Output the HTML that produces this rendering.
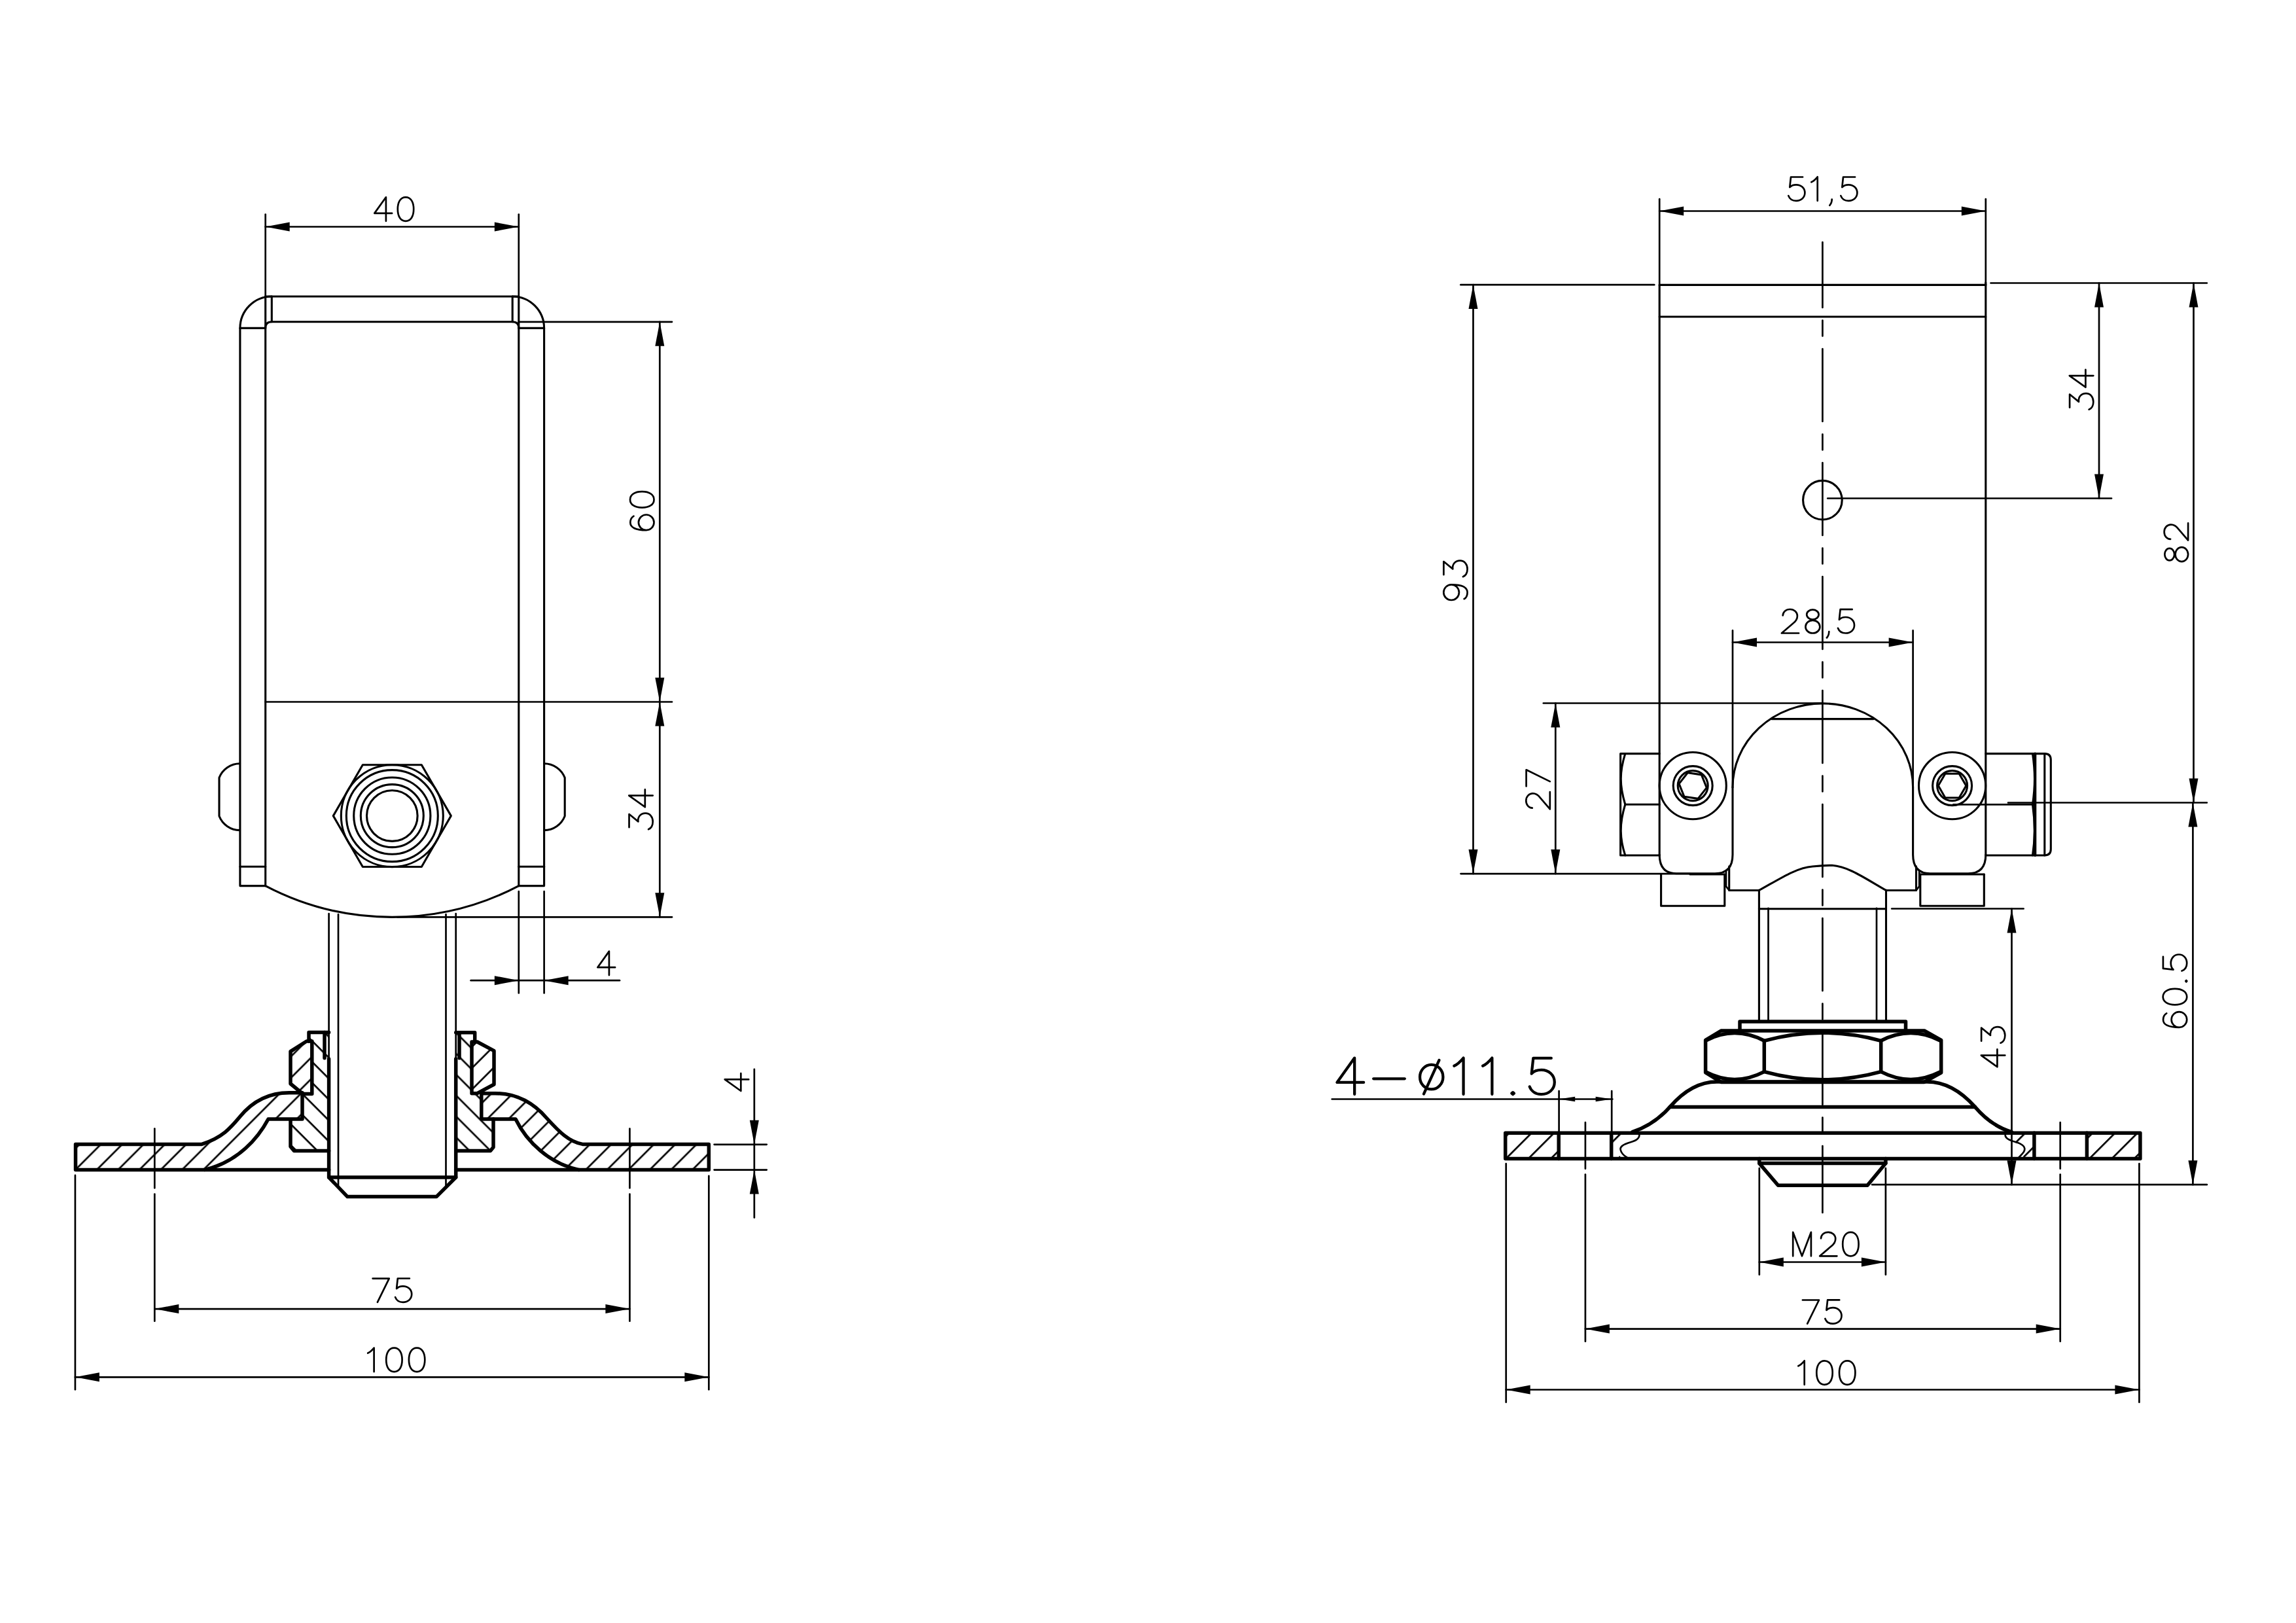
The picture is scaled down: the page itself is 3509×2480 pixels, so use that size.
<!DOCTYPE html><html><head><meta charset="utf-8"><title>Drawing</title><style>html,body{margin:0;padding:0;background:#fff;width:3509px;height:2480px;overflow:hidden}svg{display:block}</style></head><body><svg width="3509" height="2480" viewBox="0 0 3509 2480"><defs><pattern id="pL" width="23.05" height="23.05" patternUnits="userSpaceOnUse" patternTransform="rotate(45)"><line x1="8.55" y1="-2" x2="8.55" y2="25.05" stroke="#000" stroke-width="2.7"/></pattern><pattern id="pR" width="23.05" height="23.05" patternUnits="userSpaceOnUse" patternTransform="rotate(45)"><line x1="6.85" y1="-2" x2="6.85" y2="25.05" stroke="#000" stroke-width="2.7"/></pattern><pattern id="nL" width="23.05" height="23.05" patternUnits="userSpaceOnUse" patternTransform="rotate(45)"><line x1="3.8" y1="-2" x2="3.8" y2="25.05" stroke="#000" stroke-width="2.7"/></pattern><pattern id="nR" width="23.05" height="23.05" patternUnits="userSpaceOnUse" patternTransform="rotate(45)"><line x1="4.5" y1="-2" x2="4.5" y2="25.05" stroke="#000" stroke-width="2.7"/></pattern><pattern id="bL" width="22.6" height="22.6" patternUnits="userSpaceOnUse" patternTransform="rotate(-45)"><line x1="3.6" y1="-2" x2="3.6" y2="24.6" stroke="#000" stroke-width="2.7"/></pattern><pattern id="bR" width="22.6" height="22.6" patternUnits="userSpaceOnUse" patternTransform="rotate(-45)"><line x1="9.8" y1="-2" x2="9.8" y2="24.6" stroke="#000" stroke-width="2.7"/></pattern><pattern id="p2" width="24.25" height="24.25" patternUnits="userSpaceOnUse" patternTransform="rotate(45)"><line x1="17.85" y1="-2" x2="17.85" y2="26.25" stroke="#000" stroke-width="2.7"/></pattern></defs><rect width="3509" height="2480" fill="#fff"/><g stroke="#000" fill="none" stroke-linecap="round" stroke-linejoin="round"><line x1="405.7" y1="327.6" x2="405.7" y2="453" stroke-width="2.7"/>
<line x1="792.8" y1="327.6" x2="792.8" y2="453" stroke-width="2.7"/>
<line x1="405.7" y1="346.5" x2="792.8" y2="346.5" stroke-width="2.7"/>
<path d="M405.7,346.5 L442.7,339.5 L442.7,353.5 Z" fill="#000" stroke="none"/>
<path d="M792.8,346.5 L755.8,353.5 L755.8,339.5 Z" fill="#000" stroke="none"/>
<g transform="translate(572.3,301.3) scale(1.0)" fill="none" stroke-width="2.7" stroke-linecap="round" stroke-linejoin="round"><path transform="translate(0,0)" d="M17.6,36.5 V0 L0,24.6 H26.8"/><path transform="translate(35.5,0)" d="M12.2,0 C4.3,0 0,7.5 0,18.25 C0,29 4.3,36.5 12.2,36.5 C20.1,36.5 24.4,29 24.4,18.25 C24.4,7.5 20.1,0 12.2,0 Z"/></g>
<line x1="405.7" y1="453" x2="405.7" y2="1353.6" stroke-width="3.1"/>
<line x1="792.8" y1="453" x2="792.8" y2="1353.6" stroke-width="3.1"/>
<line x1="405.7" y1="453" x2="792.8" y2="453" stroke-width="3.1"/>
<path d="M415.3,453 A48.4,48.5 0 0 0 366.9,501.5 L366.9,1353.6 H405.7" stroke-width="3.1" fill="none"/>
<path d="M783.2,453 A48.4,48.5 0 0 1 831.6,501.5 L831.6,1353.6 H792.8" stroke-width="3.1" fill="none"/>
<line x1="366.9" y1="501.4" x2="405.7" y2="501.4" stroke-width="3.1"/>
<line x1="792.8" y1="501.4" x2="831.6" y2="501.4" stroke-width="3.1"/>
<line x1="415.3" y1="453" x2="415.3" y2="491.8" stroke-width="3.1"/>
<line x1="783.2" y1="453" x2="783.2" y2="491.8" stroke-width="3.1"/>
<path d="M405.7,501.4 Q405.7,491.8 415.3,491.8 H783.2 Q792.8,491.8 792.8,501.4" stroke-width="3.1" fill="none"/>
<line x1="792.8" y1="491.8" x2="1027" y2="491.8" stroke-width="2.7"/>
<line x1="405.7" y1="1072.5" x2="1027" y2="1072.5" stroke-width="2.7"/>
<line x1="366.9" y1="1324.2" x2="405.7" y2="1324.2" stroke-width="3.1"/>
<line x1="792.8" y1="1324.2" x2="831.6" y2="1324.2" stroke-width="3.1"/>
<path d="M405.7,1353.6 A416.3,416.3 0 0 0 792.8,1353.6" stroke-width="3.1" fill="none"/>
<path d="M366.6,1166.8 A33.9,33.9 0 0 0 335,1188.4 V1247 A33.9,33.9 0 0 0 366.6,1268.6" stroke-width="3.1" fill="none"/>
<path d="M831.6,1166.8 A33.9,33.9 0 0 1 863.2,1188.4 V1247 A33.9,33.9 0 0 1 831.6,1268.6" stroke-width="3.1" fill="none"/>
<path d="M689.3,1246.6 L644.3,1324.5 L554.3,1324.5 L509.3,1246.6 L554.3,1168.7 L644.3,1168.7 Z" stroke-width="3.1" fill="none"/>
<circle cx="599.3" cy="1246.6" r="78" stroke-width="3.1" fill="none"/>
<circle cx="599.3" cy="1246.6" r="70" stroke-width="3.1" fill="none"/>
<circle cx="599.3" cy="1246.6" r="58.6" stroke-width="3.1" fill="none"/>
<circle cx="599.3" cy="1246.6" r="48" stroke-width="3.1" fill="none"/>
<circle cx="599.3" cy="1246.6" r="38.8" stroke-width="3.1" fill="none"/>
<line x1="1008.3" y1="491.8" x2="1008.3" y2="1401.3" stroke-width="2.7"/>
<path d="M1008.3,491.8 L1015.3,528.8 L1001.3,528.8 Z" fill="#000" stroke="none"/>
<path d="M1008.3,1072.5 L1001.3,1035.5 L1015.3,1035.5 Z" fill="#000" stroke="none"/>
<path d="M1008.3,1072.5 L1015.3,1109.5 L1001.3,1109.5 Z" fill="#000" stroke="none"/>
<path d="M1008.3,1401.3 L1001.3,1364.3 L1015.3,1364.3 Z" fill="#000" stroke="none"/>
<g transform="translate(963,810.6) rotate(-90) scale(1.0)" fill="none" stroke-width="2.7" stroke-linecap="round" stroke-linejoin="round"><path transform="translate(0,0)" d="M22,5.5 C20,2 16.5,0.3 12,0.3 C4.5,0.3 0.5,8.5 0.5,24.7 M0.5,24.7 A11.8,11.8 0 1 0 24.1,24.7 A11.8,11.8 0 1 0 0.5,24.7"/><path transform="translate(35,0)" d="M12.2,0 C4.3,0 0,7.5 0,18.25 C0,29 4.3,36.5 12.2,36.5 C20.1,36.5 24.4,29 24.4,18.25 C24.4,7.5 20.1,0 12.2,0 Z"/></g>
<g transform="translate(961.2,1268.2) rotate(-90) scale(1.0)" fill="none" stroke-width="2.7" stroke-linecap="round" stroke-linejoin="round"><path transform="translate(0,0)" d="M4,0.3 H24.2 L12.8,14.2 C20.5,13 25.6,18.5 25.6,25.2 C25.6,32 20,36.5 12.8,36.5 C7,36.5 2.8,34 1,29.8"/><path transform="translate(35,0)" d="M17.6,36.5 V0 L0,24.6 H26.8"/></g>
<line x1="607" y1="1401.3" x2="1027" y2="1401.3" stroke-width="2.7"/>
<line x1="792.8" y1="1362" x2="792.8" y2="1517.4" stroke-width="2.7"/>
<line x1="831.6" y1="1362" x2="831.6" y2="1517.4" stroke-width="2.7"/>
<line x1="719.6" y1="1498.2" x2="947" y2="1498.2" stroke-width="2.7"/>
<path d="M792.8,1498.2 L755.8,1505.2 L755.8,1491.2 Z" fill="#000" stroke="none"/>
<path d="M831.6,1498.2 L868.6,1491.2 L868.6,1505.2 Z" fill="#000" stroke="none"/>
<g transform="translate(913.3,1453.6) scale(1.0)" fill="none" stroke-width="2.7" stroke-linecap="round" stroke-linejoin="round"><path transform="translate(0,0)" d="M17.6,36.5 V0 L0,24.6 H26.8"/></g>
<line x1="502.6" y1="1396" x2="502.6" y2="1618" stroke-width="2.7"/>
<line x1="696.7" y1="1396" x2="696.7" y2="1618" stroke-width="2.7"/>
<line x1="517" y1="1397" x2="517" y2="1812" stroke-width="2.7"/>
<line x1="681.5" y1="1397" x2="681.5" y2="1812" stroke-width="2.7"/>
<path d="M502.6,1618 V1799 L531,1828.6 H667 L696.7,1799 V1618" stroke-width="5.5" fill="none"/>
<line x1="502.6" y1="1799" x2="696.7" y2="1799" stroke-width="5.5"/>
<path d="M115.5,1748.4 H308.5 C340,1738 352,1724 367,1706 C385,1684 410,1669.7 442,1669.7 H462 V1710 H410 C395,1738 365,1775 313,1787.4 H115.5 Z" fill="url(#pL)" stroke="none"/>
<path d="M1083.3,1748.4 H890.3 C870,1745 855,1730 835,1708 C815,1685 790,1670.7 756.8,1670.7 H735.8 V1710 H788 C805,1745 840,1778 884.9,1787.6 H1083.3 Z" fill="url(#pR)" stroke="none"/>
<path d="M444,1606.6 L468.6,1591 H476.8 V1671.6 H463 L444,1656 Z" fill="url(#nL)" stroke="none"/>
<path d="M755,1605.7 L729.4,1592 H721 V1670.7 H729.4 L755,1657 Z" fill="url(#nR)" stroke="none"/>
<path d="M472,1577.4 H502.6 V1758.5 H449.4 L444,1752 V1712 H462 V1669.7 H476.8 V1591 H472 Z" fill="url(#bL)" stroke="none"/>
<path d="M725.7,1577.7 H696.7 V1758.5 H749.5 L754,1753 V1710 H735.8 V1670.7 H721 V1592 H725.7 Z" fill="url(#bR)" stroke="none"/>
<path d="M115.5,1748.4 H308.5 C340,1738 352,1724 367,1706 C385,1684 410,1669.7 442,1669.7 H462 V1710 H410 C395,1738 365,1775 313,1787.4 H115.5 Z" stroke-width="5.5" fill="none"/>
<path d="M1083.3,1748.4 H890.3 C870,1745 855,1730 835,1708 C815,1685 790,1670.7 756.8,1670.7 H735.8 V1710 H788 C805,1745 840,1778 884.9,1787.6 H1083.3 Z" stroke-width="5.5" fill="none"/>
<path d="M444,1606.6 L468.6,1591 H476.8 V1671.6 H463 L444,1656 Z" stroke-width="5.5" fill="none"/>
<path d="M755,1605.7 L729.4,1592 H721 V1670.7 H729.4 L755,1657 Z" stroke-width="5.5" fill="none"/>
<path d="M472,1591 V1577.4 H502.6" stroke-width="5.5" fill="none"/>
<line x1="496" y1="1577.4" x2="496" y2="1616.7" stroke-width="5.5"/>
<path d="M725.7,1592 V1577.7 H696.7" stroke-width="5.5" fill="none"/>
<line x1="702" y1="1577.7" x2="702" y2="1616.7" stroke-width="5.5"/>
<path d="M444,1712 V1752 L449.4,1758.5 H502.6" stroke-width="5.5" fill="none"/>
<path d="M754,1710 V1753 L749.5,1758.5 H696.7" stroke-width="5.5" fill="none"/>
<line x1="313" y1="1787.4" x2="502.6" y2="1787.4" stroke-width="5.5"/>
<line x1="696.7" y1="1787.6" x2="884.9" y2="1787.6" stroke-width="5.5"/>
<line x1="1091.6" y1="1748.8" x2="1171.7" y2="1748.8" stroke-width="2.7"/>
<line x1="1091.6" y1="1787.6" x2="1171.7" y2="1787.6" stroke-width="2.7"/>
<line x1="1152.8" y1="1633.8" x2="1152.8" y2="1860.6" stroke-width="2.7"/>
<path d="M1152.8,1748.8 L1145.8,1711.8 L1159.8,1711.8 Z" fill="#000" stroke="none"/>
<path d="M1152.8,1787.6 L1159.8,1824.6 L1145.8,1824.6 Z" fill="#000" stroke="none"/>
<g transform="translate(1107.7,1667) rotate(-90) scale(1.0)" fill="none" stroke-width="2.7" stroke-linecap="round" stroke-linejoin="round"><path transform="translate(0,0)" d="M17.6,36.5 V0 L0,24.6 H26.8"/></g>
<line x1="236.3" y1="1724.6" x2="236.3" y2="1815.3" stroke-width="2.7"/>
<line x1="236.3" y1="1824.5" x2="236.3" y2="2018.7" stroke-width="2.7"/>
<line x1="962.4" y1="1724.6" x2="962.4" y2="1815.3" stroke-width="2.7"/>
<line x1="962.4" y1="1824.5" x2="962.4" y2="2018.7" stroke-width="2.7"/>
<line x1="236.3" y1="2000.1" x2="962.4" y2="2000.1" stroke-width="2.7"/>
<path d="M236.3,2000.1 L273.3,1993.1 L273.3,2007.1 Z" fill="#000" stroke="none"/>
<path d="M962.4,2000.1 L925.4,2007.1 L925.4,1993.1 Z" fill="#000" stroke="none"/>
<g transform="translate(569.6,1953.3) scale(1.0)" fill="none" stroke-width="2.7" stroke-linecap="round" stroke-linejoin="round"><path transform="translate(0,0)" d="M0,0.3 H25.1 L7.3,36.5"/><path transform="translate(34.5,0)" d="M21.8,0.2 H3.7 L2,15.8 C4.5,13 8,12 11.8,12 C19.5,12 25.1,17.3 25.1,24.3 C25.1,31.6 19.3,36.5 11.8,36.5 C5.8,36.5 1.6,33.2 0,28.8"/></g>
<line x1="114.9" y1="1795.9" x2="114.9" y2="2123.3" stroke-width="2.7"/>
<line x1="1083.3" y1="1796.8" x2="1083.3" y2="2123.3" stroke-width="2.7"/>
<line x1="114.9" y1="2104.3" x2="1083.3" y2="2104.3" stroke-width="2.7"/>
<path d="M114.9,2104.3 L151.9,2097.3 L151.9,2111.3 Z" fill="#000" stroke="none"/>
<path d="M1083.3,2104.3 L1046.3,2111.3 L1046.3,2097.3 Z" fill="#000" stroke="none"/>
<g transform="translate(562.2,2059.6) scale(1.0)" fill="none" stroke-width="2.7" stroke-linecap="round" stroke-linejoin="round"><path transform="translate(0,0)" d="M0,8 C3.5,6.5 6.5,3.5 9.4,0 V36.5"/><path transform="translate(28,0)" d="M12.2,0 C4.3,0 0,7.5 0,18.25 C0,29 4.3,36.5 12.2,36.5 C20.1,36.5 24.4,29 24.4,18.25 C24.4,7.5 20.1,0 12.2,0 Z"/><path transform="translate(62.7,0)" d="M12.2,0 C4.3,0 0,7.5 0,18.25 C0,29 4.3,36.5 12.2,36.5 C20.1,36.5 24.4,29 24.4,18.25 C24.4,7.5 20.1,0 12.2,0 Z"/></g>
<line x1="2536.2" y1="304.2" x2="2536.2" y2="435.4" stroke-width="2.7"/>
<line x1="3034.8" y1="304.2" x2="3034.8" y2="435.4" stroke-width="2.7"/>
<line x1="2536.2" y1="322.5" x2="3034.8" y2="322.5" stroke-width="2.7"/>
<path d="M2536.2,322.5 L2573.2,315.5 L2573.2,329.5 Z" fill="#000" stroke="none"/>
<path d="M3034.8,322.5 L2997.8,329.5 L2997.8,315.5 Z" fill="#000" stroke="none"/>
<g transform="translate(2733.3,270.3) scale(1.0)" fill="none" stroke-width="2.7" stroke-linecap="round" stroke-linejoin="round"><path transform="translate(0,0)" d="M21.8,0.2 H3.7 L2,15.8 C4.5,13 8,12 11.8,12 C19.5,12 25.1,17.3 25.1,24.3 C25.1,31.6 19.3,36.5 11.8,36.5 C5.8,36.5 1.6,33.2 0,28.8"/><path transform="translate(35,0)" d="M0,8 C3.5,6.5 6.5,3.5 9.4,0 V36.5"/><path transform="translate(63,0)" d="M3.4,34.2 C3.4,38 2.2,41 0,43.5"/><path transform="translate(80,0)" d="M21.8,0.2 H3.7 L2,15.8 C4.5,13 8,12 11.8,12 C19.5,12 25.1,17.3 25.1,24.3 C25.1,31.6 19.3,36.5 11.8,36.5 C5.8,36.5 1.6,33.2 0,28.8"/></g>
<line x1="2536.2" y1="435.4" x2="2536.2" y2="1306" stroke-width="3.1"/>
<line x1="3034.8" y1="431.7" x2="3034.8" y2="1306" stroke-width="3.1"/>
<line x1="2536.2" y1="435.4" x2="3034.8" y2="435.4" stroke-width="3.1"/>
<line x1="2536.2" y1="484" x2="3034.8" y2="484" stroke-width="3.1"/>
<line x1="2232.4" y1="435.2" x2="2528.2" y2="435.2" stroke-width="2.7"/>
<line x1="3042.5" y1="432.5" x2="3372.8" y2="432.5" stroke-width="2.7"/>
<line x1="2785.4" y1="370" x2="2785.4" y2="1853" stroke-width="2.7" stroke-dasharray="111 19.5 24 19.5" stroke-dashoffset="11"/>
<circle cx="2785.4" cy="764.2" r="29.8" stroke-width="3.1" fill="none"/>
<line x1="2793.2" y1="761.5" x2="3227" y2="761.5" stroke-width="2.7"/>
<line x1="3208" y1="432.5" x2="3208" y2="761.5" stroke-width="2.7"/>
<path d="M3208,432.5 L3215,469.5 L3201,469.5 Z" fill="#000" stroke="none"/>
<path d="M3208,761.5 L3201,724.5 L3215,724.5 Z" fill="#000" stroke="none"/>
<g transform="translate(3162.8,626.7) rotate(-90) scale(1.0)" fill="none" stroke-width="2.7" stroke-linecap="round" stroke-linejoin="round"><path transform="translate(0,0)" d="M4,0.3 H24.2 L12.8,14.2 C20.5,13 25.6,18.5 25.6,25.2 C25.6,32 20,36.5 12.8,36.5 C7,36.5 2.8,34 1,29.8"/><path transform="translate(35,0)" d="M17.6,36.5 V0 L0,24.6 H26.8"/></g>
<line x1="3352.5" y1="432.5" x2="3352.5" y2="1226.5" stroke-width="2.7"/>
<path d="M3352.5,432.5 L3359.5,469.5 L3345.5,469.5 Z" fill="#000" stroke="none"/>
<path d="M3352.5,1226.5 L3345.5,1189.5 L3359.5,1189.5 Z" fill="#000" stroke="none"/>
<g transform="translate(3307.6,859.6) rotate(-90) scale(1.0)" fill="none" stroke-width="2.7" stroke-linecap="round" stroke-linejoin="round"><path transform="translate(0,0)" d="M12.5,0.7 C7.4,0.7 3.3,4 3.3,8.1 C3.3,12.2 7.4,15.5 12.5,15.5 C17.6,15.5 21.7,12.2 21.7,8.1 C21.7,4 17.6,0.7 12.5,0.7 Z M12.5,16.9 C6.4,16.9 1.5,21.3 1.5,26.7 C1.5,32.1 6.4,36.5 12.5,36.5 C18.6,36.5 23.5,32.1 23.5,26.7 C23.5,21.3 18.6,16.9 12.5,16.9 Z"/><path transform="translate(34,0)" d="M1.8,9.5 C2,4 6.5,0 12.8,0 C19.3,0 24,4.5 24,10.3 C24,14.5 21.5,18.5 17.5,21.5 L0,36.5 H26.2"/></g>
<line x1="2251.5" y1="435.1" x2="2251.5" y2="1335.1" stroke-width="2.7"/>
<path d="M2251.5,435.1 L2258.5,472.1 L2244.5,472.1 Z" fill="#000" stroke="none"/>
<path d="M2251.5,1335.1 L2244.5,1298.1 L2258.5,1298.1 Z" fill="#000" stroke="none"/>
<g transform="translate(2206.1,917.2) rotate(-90) scale(1.0)" fill="none" stroke-width="2.7" stroke-linecap="round" stroke-linejoin="round"><path transform="translate(0,0)" d="M23.8,12 A11.8,11.8 0 1 0 0.2,12 A11.8,11.8 0 1 0 23.8,12 C23.8,29 19.5,36.5 12,36.5 C7,36.5 3.5,34.5 2,31.5"/><path transform="translate(35,0)" d="M4,0.3 H24.2 L12.8,14.2 C20.5,13 25.6,18.5 25.6,25.2 C25.6,32 20,36.5 12.8,36.5 C7,36.5 2.8,34 1,29.8"/></g>
<line x1="2232.5" y1="1335.1" x2="2583" y2="1335.1" stroke-width="2.7"/>
<line x1="2358.8" y1="1074.5" x2="2783" y2="1074.5" stroke-width="2.7"/>
<line x1="2377.3" y1="1074.5" x2="2377.3" y2="1335.1" stroke-width="2.7"/>
<path d="M2377.3,1074.5 L2384.3,1111.5 L2370.3,1111.5 Z" fill="#000" stroke="none"/>
<path d="M2377.3,1335.1 L2370.3,1298.1 L2384.3,1298.1 Z" fill="#000" stroke="none"/>
<g transform="translate(2332.3,1236.4) rotate(-90) scale(1.0)" fill="none" stroke-width="2.7" stroke-linecap="round" stroke-linejoin="round"><path transform="translate(0,0)" d="M1.8,9.5 C2,4 6.5,0 12.8,0 C19.3,0 24,4.5 24,10.3 C24,14.5 21.5,18.5 17.5,21.5 L0,36.5 H26.2"/><path transform="translate(35,0)" d="M0,0.3 H25.1 L7.3,36.5"/></g>
<line x1="2648" y1="963.4" x2="2648" y2="1203" stroke-width="2.7"/>
<line x1="2923.6" y1="963.4" x2="2923.6" y2="1203" stroke-width="2.7"/>
<line x1="2648" y1="981.5" x2="2923.6" y2="981.5" stroke-width="2.7"/>
<path d="M2648,981.5 L2685,974.5 L2685,988.5 Z" fill="#000" stroke="none"/>
<path d="M2923.6,981.5 L2886.6,988.5 L2886.6,974.5 Z" fill="#000" stroke="none"/>
<g transform="translate(2722.9,931) scale(1.0)" fill="none" stroke-width="2.7" stroke-linecap="round" stroke-linejoin="round"><path transform="translate(0,0)" d="M1.8,9.5 C2,4 6.5,0 12.8,0 C19.3,0 24,4.5 24,10.3 C24,14.5 21.5,18.5 17.5,21.5 L0,36.5 H26.2"/><path transform="translate(35,0)" d="M12.5,0.7 C7.4,0.7 3.3,4 3.3,8.1 C3.3,12.2 7.4,15.5 12.5,15.5 C17.6,15.5 21.7,12.2 21.7,8.1 C21.7,4 17.6,0.7 12.5,0.7 Z M12.5,16.9 C6.4,16.9 1.5,21.3 1.5,26.7 C1.5,32.1 6.4,36.5 12.5,36.5 C18.6,36.5 23.5,32.1 23.5,26.7 C23.5,21.3 18.6,16.9 12.5,16.9 Z"/><path transform="translate(69,0)" d="M3.4,34.2 C3.4,38 2.2,41 0,43.5"/><path transform="translate(86,0)" d="M21.8,0.2 H3.7 L2,15.8 C4.5,13 8,12 11.8,12 C19.5,12 25.1,17.3 25.1,24.3 C25.1,31.6 19.3,36.5 11.8,36.5 C5.8,36.5 1.6,33.2 0,28.8"/></g>
<path d="M2648,1203 A137.8,128.1 0 0 1 2923.6,1203" stroke-width="3.1" fill="none"/>
<line x1="2707.6" y1="1098.6" x2="2863.3" y2="1098.6" stroke-width="3.1"/>
<path d="M2536.2,1306 Q2536.2,1334.8 2562,1334.8 H2621 Q2648,1334.8 2648,1306 V1203" stroke-width="3.1" fill="none"/>
<path d="M2923.6,1203 V1306 Q2923.6,1334.8 2950,1334.8 H3008 Q3034.8,1334.8 3034.8,1306" stroke-width="3.1" fill="none"/>
<circle cx="2587.2" cy="1200.6" r="51.1" stroke-width="3.1" fill="none"/>
<circle cx="2587.2" cy="1200.6" r="30" stroke-width="3.1" fill="none"/>
<circle cx="2587.2" cy="1200.6" r="23" stroke-width="3.1" fill="none"/>
<path d="M2608.3,1203.6 L2595.1,1220.4 L2574,1217.3 L2566.1,1197.6 L2579.3,1180.8 L2600.4,1183.9 Z" stroke-width="3.1" fill="none"/>
<circle cx="2983.6" cy="1200.6" r="51.1" stroke-width="3.1" fill="none"/>
<circle cx="2983.6" cy="1200.6" r="30" stroke-width="3.1" fill="none"/>
<circle cx="2983.6" cy="1200.6" r="23" stroke-width="3.1" fill="none"/>
<path d="M3004.9,1200.6 L2994.2,1219 L2972.9,1219 L2962.3,1200.6 L2972.9,1182.2 L2994.2,1182.2 Z" stroke-width="3.1" fill="none"/>
<path d="M2536.2,1151.6 H2476.6 V1307 H2536.2" stroke-width="3.1" fill="none"/>
<line x1="2483.8" y1="1229.2" x2="2536.2" y2="1229.2" stroke-width="3.1"/>
<path d="M2483.8,1151.6 C2475,1180 2475,1200 2483.8,1229.2 C2475,1258 2475,1280 2483.8,1307" stroke-width="3.1" fill="none"/>
<path d="M3034.8,1151.6 H3125 Q3134.3,1151.6 3134.3,1161 V1297.6 Q3134.3,1307 3125,1307 H3034.8" stroke-width="3.1" fill="none"/>
<path d="M3106.5,1151.6 C3110.5,1180 3110.5,1200 3106.5,1229.4 C3110.5,1258 3110.5,1280 3106.5,1307" stroke-width="3.1" fill="none"/>
<line x1="3110.2" y1="1151.6" x2="3110.2" y2="1307" stroke-width="4.2"/>
<line x1="3124.8" y1="1151.6" x2="3124.8" y2="1307" stroke-width="3.1"/>
<line x1="3069" y1="1226.5" x2="3372.8" y2="1226.5" stroke-width="2.7"/>
<line x1="2985.3" y1="1229.4" x2="3110.7" y2="1229.4" stroke-width="2.7"/>
<path d="M2538.6,1336 V1384.3 H2635.8 V1336" stroke-width="3.1" fill="none"/>
<path d="M2934.8,1336 V1384.3 H3032.3 V1336" stroke-width="3.1" fill="none"/>
<line x1="2583" y1="1336" x2="2635.8" y2="1336" stroke-width="3.1"/>
<line x1="2934.8" y1="1336" x2="3032.3" y2="1336" stroke-width="3.1"/>
<path d="M2642.7,1323.9 V1360.5 H2688.4 C2720,1343 2745,1326 2770,1324 C2780,1323 2790,1322.3 2800,1322.3 C2825,1324 2850,1342 2882.5,1360.5 H2928.5 V1323.9" stroke-width="3.1" fill="none"/>
<path d="M2638,1330 V1354.4 L2642.7,1360.5" stroke-width="2.7" fill="none"/>
<path d="M2933.2,1330 V1354.4 L2928.5,1360.5" stroke-width="2.7" fill="none"/>
<line x1="2688.4" y1="1360" x2="2688.4" y2="1561" stroke-width="3.1"/>
<line x1="2882.5" y1="1360" x2="2882.5" y2="1561" stroke-width="3.1"/>
<line x1="2688.4" y1="1388.7" x2="2882.5" y2="1388.7" stroke-width="3.1"/>
<line x1="2702.5" y1="1387.8" x2="2702.5" y2="1561" stroke-width="2.7"/>
<line x1="2868" y1="1387.8" x2="2868" y2="1561" stroke-width="2.7"/>
<line x1="2891.2" y1="1388.5" x2="3092.6" y2="1388.5" stroke-width="2.7"/>
<line x1="3074.5" y1="1388.5" x2="3074.5" y2="1810.2" stroke-width="2.7"/>
<path d="M3074.5,1388.5 L3081.5,1425.5 L3067.5,1425.5 Z" fill="#000" stroke="none"/>
<path d="M3074.5,1810.2 L3067.5,1773.2 L3081.5,1773.2 Z" fill="#000" stroke="none"/>
<g transform="translate(3027.8,1630.2) rotate(-90) scale(1.0)" fill="none" stroke-width="2.7" stroke-linecap="round" stroke-linejoin="round"><path transform="translate(0,0)" d="M17.6,36.5 V0 L0,24.6 H26.8"/><path transform="translate(35.5,0)" d="M4,0.3 H24.2 L12.8,14.2 C20.5,13 25.6,18.5 25.6,25.2 C25.6,32 20,36.5 12.8,36.5 C7,36.5 2.8,34 1,29.8"/></g>
<line x1="3351.4" y1="1226.5" x2="3351.4" y2="1810.2" stroke-width="2.7"/>
<path d="M3351.4,1226.5 L3358.4,1263.5 L3344.4,1263.5 Z" fill="#000" stroke="none"/>
<path d="M3351.4,1810.2 L3344.4,1773.2 L3358.4,1773.2 Z" fill="#000" stroke="none"/>
<g transform="translate(3305.7,1570.3) rotate(-90) scale(1.0)" fill="none" stroke-width="2.7" stroke-linecap="round" stroke-linejoin="round"><path transform="translate(0,0)" d="M22,5.5 C20,2 16.5,0.3 12,0.3 C4.5,0.3 0.5,8.5 0.5,24.7 M0.5,24.7 A11.8,11.8 0 1 0 24.1,24.7 A11.8,11.8 0 1 0 0.5,24.7"/><path transform="translate(35,0)" d="M12.2,0 C4.3,0 0,7.5 0,18.25 C0,29 4.3,36.5 12.2,36.5 C20.1,36.5 24.4,29 24.4,18.25 C24.4,7.5 20.1,0 12.2,0 Z"/><path transform="translate(69.7,0)" d="M0.2,35.6 L1.4,34.6 L2.6,35.6 L1.4,36.6 Z"/><path transform="translate(86.7,0)" d="M21.8,0.2 H3.7 L2,15.8 C4.5,13 8,12 11.8,12 C19.5,12 25.1,17.3 25.1,24.3 C25.1,31.6 19.3,36.5 11.8,36.5 C5.8,36.5 1.6,33.2 0,28.8"/></g>
<line x1="2861.2" y1="1810.2" x2="3372.8" y2="1810.2" stroke-width="2.7"/>
<path d="M2659,1573 V1561 H2912.5 V1573" stroke-width="5.5" fill="none"/>
<path d="M2630.3,1575 L2606.6,1589.3 V1639 L2630.3,1653.4 H2941 L2966.7,1639 V1589.3 L2941,1575 Z" stroke-width="5.5" fill="none"/>
<line x1="2696.3" y1="1590.3" x2="2696.3" y2="1637.6" stroke-width="5.5"/>
<line x1="2874.7" y1="1590.3" x2="2874.7" y2="1637.6" stroke-width="5.5"/>
<path d="M2607,1590 Q2651,1567 2696.3,1590.3 Q2785,1566 2874.7,1590.3 Q2920,1567 2965,1590" stroke-width="5.5" fill="none"/>
<path d="M2607,1638 Q2651,1661 2696.3,1637.6 Q2785,1662 2874.7,1637.6 Q2920,1661 2965,1638" stroke-width="5.5" fill="none"/>
<path d="M2494.8,1729.7 C2525,1720 2542,1703 2552.2,1691.4 C2575,1665 2600,1653 2624,1653 H2945 C2970,1653 2995,1665 3018.4,1691.4 C3030,1705 3048,1722 3074.5,1729.7" stroke-width="5.5" fill="none"/>
<line x1="2552.2" y1="1691.4" x2="3018.4" y2="1691.4" stroke-width="5.5"/>
<path d="M2300.7,1731.2 H2382.2 V1770.5 H2300.7 Z" fill="url(#p2)" stroke="none"/>
<path d="M2462.7,1731.2 H2500 C2492,1742 2470,1748 2472,1760 L2478,1770.5 H2462.7 Z" fill="url(#p2)" stroke="none"/>
<path d="M3070,1731.2 H3108.9 V1770.5 H3092 C3095,1760 3080,1748 3070,1731.2 Z" fill="url(#p2)" stroke="none"/>
<path d="M3189.4,1731.2 H3270.9 V1770.5 H3189.4 Z" fill="url(#p2)" stroke="none"/>
<path d="M2300.7,1731.2 H3270.9 V1770.5 H2300.7 Z" stroke-width="5.5" fill="none"/>
<line x1="2382.2" y1="1731.2" x2="2382.2" y2="1770.5" stroke-width="5.5"/>
<line x1="2462.7" y1="1731.2" x2="2462.7" y2="1770.5" stroke-width="5.5"/>
<line x1="3108.9" y1="1731.2" x2="3108.9" y2="1770.5" stroke-width="5.5"/>
<line x1="3189.4" y1="1731.2" x2="3189.4" y2="1770.5" stroke-width="5.5"/>
<path d="M2505,1731 C2507,1738 2503,1742 2493,1745 C2479,1749 2475,1753 2477,1758 C2478,1762 2482,1766 2487,1769" stroke-width="2.7" fill="none"/>
<path d="M3065,1731 C3063,1738 3068,1741 3077,1744 C3092,1748 3097,1753 3093,1760 C3091,1763 3088,1766 3085,1769" stroke-width="2.7" fill="none"/>
<path d="M2688.8,1770.5 V1777.6 L2717.5,1811.2 H2854 L2881.9,1777.6 V1770.5" stroke-width="5.5" fill="none"/>
<line x1="2688.8" y1="1777.6" x2="2881.9" y2="1777.6" stroke-width="5.5"/>
<line x1="2035.7" y1="1679.5" x2="2464.3" y2="1679.5" stroke-width="2.7"/>
<line x1="2382.6" y1="1667" x2="2382.6" y2="1731" stroke-width="2.7"/>
<line x1="2463.2" y1="1667" x2="2463.2" y2="1731" stroke-width="2.7"/>
<path d="M2382.6,1679.5 L2407.2,1675.7 L2407.2,1683.3 Z" fill="#000" stroke="none"/>
<path d="M2463.2,1679.5 L2438.6,1683.3 L2438.6,1675.7 Z" fill="#000" stroke="none"/>
<g transform="translate(2043.4,1616.6) scale(1.52)" fill="none" stroke-width="2.8" stroke-linecap="round" stroke-linejoin="round"><path transform="translate(0,0)" d="M17.6,36.5 V0 L0,24.6 H26.8"/><path transform="translate(36.7,0)" d="M0,20.9 H31.3"/><path transform="translate(83.3,0)" d="M11.6,6.7 C5.2,6.7 0,12.3 0,19.1 C0,25.9 5.2,31.5 11.6,31.5 C18,31.5 23.3,25.9 23.3,19.1 C23.3,12.3 18,6.7 11.6,6.7 Z M3.9,36.2 L19.4,2.2"/><path transform="translate(117.7,0)" d="M0,8 C3.5,6.5 6.5,3.5 9.4,0 V36.5"/><path transform="translate(146.5,0)" d="M0,8 C3.5,6.5 6.5,3.5 9.4,0 V36.5"/><path transform="translate(175.4,0)" d="M0.2,35.6 L1.4,34.6 L2.6,35.6 L1.4,36.6 Z"/><path transform="translate(193.6,0)" d="M21.8,0.2 H3.7 L2,15.8 C4.5,13 8,12 11.8,12 C19.5,12 25.1,17.3 25.1,24.3 C25.1,31.6 19.3,36.5 11.8,36.5 C5.8,36.5 1.6,33.2 0,28.8"/></g>
<line x1="2422.9" y1="1715" x2="2422.9" y2="1785.8" stroke-width="2.7"/>
<line x1="2422.9" y1="1794.5" x2="2422.9" y2="2049.7" stroke-width="2.7"/>
<line x1="3148.7" y1="1715" x2="3148.7" y2="1785.8" stroke-width="2.7"/>
<line x1="3148.7" y1="1794.5" x2="3148.7" y2="2049.7" stroke-width="2.7"/>
<line x1="2688.8" y1="1785" x2="2688.8" y2="1947.7" stroke-width="2.7"/>
<line x1="2881.9" y1="1785" x2="2881.9" y2="1947.7" stroke-width="2.7"/>
<line x1="2688.8" y1="1928.5" x2="2881.9" y2="1928.5" stroke-width="2.7"/>
<path d="M2688.8,1928.5 L2725.8,1921.5 L2725.8,1935.5 Z" fill="#000" stroke="none"/>
<path d="M2881.9,1928.5 L2844.9,1935.5 L2844.9,1921.5 Z" fill="#000" stroke="none"/>
<g transform="translate(2740.2,1882.8) scale(1.0)" fill="none" stroke-width="2.7" stroke-linecap="round" stroke-linejoin="round"><path transform="translate(0,0)" d="M0,36.5 V0 L13.8,36.5 L27.7,0 V36.5"/><path transform="translate(41,0)" d="M1.8,9.5 C2,4 6.5,0 12.8,0 C19.3,0 24,4.5 24,10.3 C24,14.5 21.5,18.5 17.5,21.5 L0,36.5 H26.2"/><path transform="translate(76,0)" d="M12.2,0 C4.3,0 0,7.5 0,18.25 C0,29 4.3,36.5 12.2,36.5 C20.1,36.5 24.4,29 24.4,18.25 C24.4,7.5 20.1,0 12.2,0 Z"/></g>
<line x1="2422.9" y1="2030.6" x2="3148.7" y2="2030.6" stroke-width="2.7"/>
<path d="M2422.9,2030.6 L2459.9,2023.6 L2459.9,2037.6 Z" fill="#000" stroke="none"/>
<path d="M3148.7,2030.6 L3111.7,2037.6 L3111.7,2023.6 Z" fill="#000" stroke="none"/>
<g transform="translate(2754.9,1986.2) scale(1.0)" fill="none" stroke-width="2.7" stroke-linecap="round" stroke-linejoin="round"><path transform="translate(0,0)" d="M0,0.3 H25.1 L7.3,36.5"/><path transform="translate(34.5,0)" d="M21.8,0.2 H3.7 L2,15.8 C4.5,13 8,12 11.8,12 C19.5,12 25.1,17.3 25.1,24.3 C25.1,31.6 19.3,36.5 11.8,36.5 C5.8,36.5 1.6,33.2 0,28.8"/></g>
<line x1="2301.7" y1="1778" x2="2301.7" y2="2142.7" stroke-width="2.7"/>
<line x1="3269.4" y1="1778" x2="3269.4" y2="2142.7" stroke-width="2.7"/>
<line x1="2301.7" y1="2123.5" x2="3269.4" y2="2123.5" stroke-width="2.7"/>
<path d="M2301.7,2123.5 L2338.7,2116.5 L2338.7,2130.5 Z" fill="#000" stroke="none"/>
<path d="M3269.4,2123.5 L3232.4,2130.5 L3232.4,2116.5 Z" fill="#000" stroke="none"/>
<g transform="translate(2748.3,2079.3) scale(1.0)" fill="none" stroke-width="2.7" stroke-linecap="round" stroke-linejoin="round"><path transform="translate(0,0)" d="M0,8 C3.5,6.5 6.5,3.5 9.4,0 V36.5"/><path transform="translate(28,0)" d="M12.2,0 C4.3,0 0,7.5 0,18.25 C0,29 4.3,36.5 12.2,36.5 C20.1,36.5 24.4,29 24.4,18.25 C24.4,7.5 20.1,0 12.2,0 Z"/><path transform="translate(62.7,0)" d="M12.2,0 C4.3,0 0,7.5 0,18.25 C0,29 4.3,36.5 12.2,36.5 C20.1,36.5 24.4,29 24.4,18.25 C24.4,7.5 20.1,0 12.2,0 Z"/></g></g></svg></body></html>
